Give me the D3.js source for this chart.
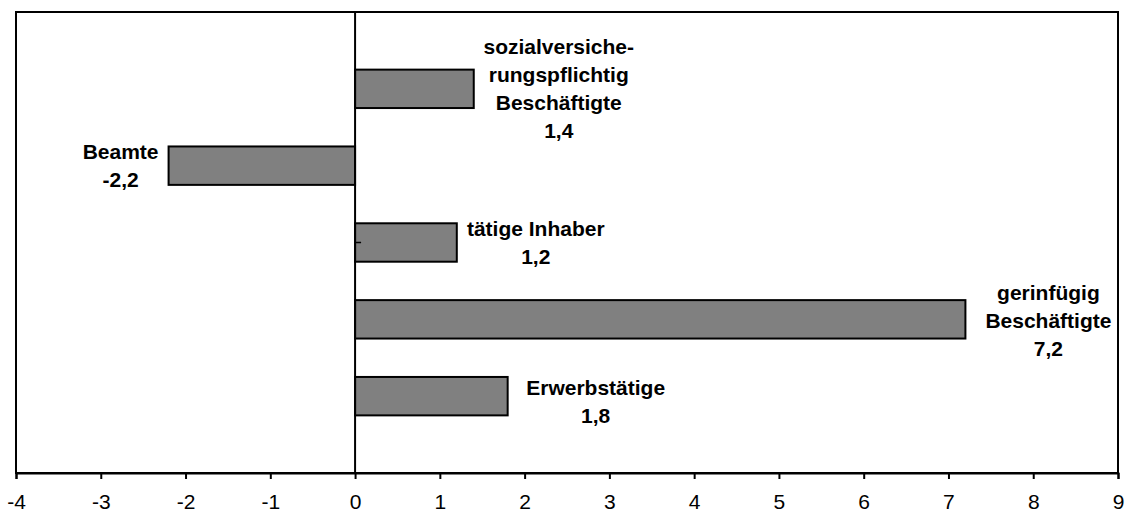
<!DOCTYPE html>
<html>
<head>
<meta charset="utf-8">
<script src="https://cdn.jsdelivr.net/npm/d3@7"></script>
<style>
  body { margin: 0; background: #fff; }
  svg text { font-family: Arial, "Liberation Sans", sans-serif; fill: #000; }
</style>
</head>
<body>
<svg id="chart" width="1125" height="513"></svg>
<script>
"use strict"

// categories top to bottom, with their label lines
var categories = ["sozialversicherungspflichtig Beschäftigte", "Beamte", "tätige Inhaber", "gerinfügig Beschäftigte", "Erwerbstätige"];
var labelLines = [
	["sozialversiche-", "rungspflichtig", "Beschäftigte"],
	["Beamte"],
	["tätige Inhaber"],
	["gerinfügig", "Beschäftigte"],
	["Erwerbstätige"]
];
var values     = [1.4, -2.2, 1.2, 7.2, 1.8];
var valueText  = ["1,4", "-2,2", "1,2", "7,2", "1,8"];
var xTicks     = [-4, -3, -2, -1, 0, 1, 2, 3, 4, 5, 6, 7, 8, 9];

// label placement relative to bar end (layout only)
var labelDx = [85, -48, 79, 83, 88];
var labelDy = [0, 0, 0, 2, 6];

var plotL = 16, plotR = 1118, plotT = 12, plotB = 473;
var LINEH = 28;

var svg = d3.select("#chart");

var x = d3.scaleLinear().domain([-4, 9]).range([plotL, plotR]);
var y = d3.scalePoint().domain(categories).range([plotT, plotB]).padding(1);
var barH = y.step() * 0.5;

// plot frame
svg.append("rect")
   .attr("x", plotL).attr("y", plotT)
   .attr("width", plotR - plotL).attr("height", plotB - plotT)
   .style("fill", "none")
   .style("stroke", "#000")
   .style("stroke-width", 2);

// bars
svg.append("g")
   .selectAll("rect")
   .data(values)
   .enter()
   .append("rect")
   .attr("x", function(d){ return x(Math.min(0, d)); })
   .attr("y", function(d, i){ return y(categories[i]) - barH / 2; })
   .attr("width", function(d){ return Math.abs(x(d) - x(0)); })
   .attr("height", barH)
   .style("fill", "#808080")
   .style("stroke", "#000")
   .style("stroke-width", 2);

// zero line
svg.append("line")
   .attr("x1", x(0)).attr("x2", x(0))
   .attr("y1", plotT).attr("y2", plotB)
   .style("stroke", "#000")
   .style("stroke-width", 2);

// little stray tick on the category axis
svg.append("line")
   .attr("x1", x(0)).attr("x2", x(0) + 6)
   .attr("y1", y(categories[2])).attr("y2", y(categories[2]))
   .style("stroke", "#000")
   .style("stroke-width", 1.5);

// x axis
var xAxis = d3.axisBottom(x)
	.tickValues(xTicks)
	.tickSize(6)
	.tickFormat(function(d){ return d < 0 ? "-" + Math.abs(d) : String(d); });

var gx = svg.append("g")
	.attr("transform", "translate(0," + plotB + ")")
	.call(xAxis);
gx.select(".domain").style("stroke", "#000").style("stroke-width", 2);
gx.selectAll(".tick line").style("stroke", "#000").style("stroke-width", 2);
gx.selectAll(".tick text")
  .style("font-family", "Arial, 'Liberation Sans', sans-serif")
  .style("font-size", "21px")
  .style("fill", "#000")
  .attr("dy", null)
  .attr("y", 36);

// data labels
var labels = svg.append("g")
	.selectAll("text")
	.data(values)
	.enter()
	.append("text")
	.attr("text-anchor", "middle")
	.style("font-weight", "bold")
	.style("font-size", "21px");

labels.each(function(d, i){
	var lines = labelLines[i].concat([valueText[i]]);
	var cx = x(d) + labelDx[i];
	var cy = y(categories[i]) + labelDy[i];
	var firstBase = cy - (lines.length - 1) * LINEH / 2 + 7;
	var t = d3.select(this);
	lines.forEach(function(s, k){
		t.append("tspan")
		 .attr("x", cx)
		 .attr("y", firstBase + k * LINEH)
		 .text(s);
	});
});
</script>
</body>
</html>
